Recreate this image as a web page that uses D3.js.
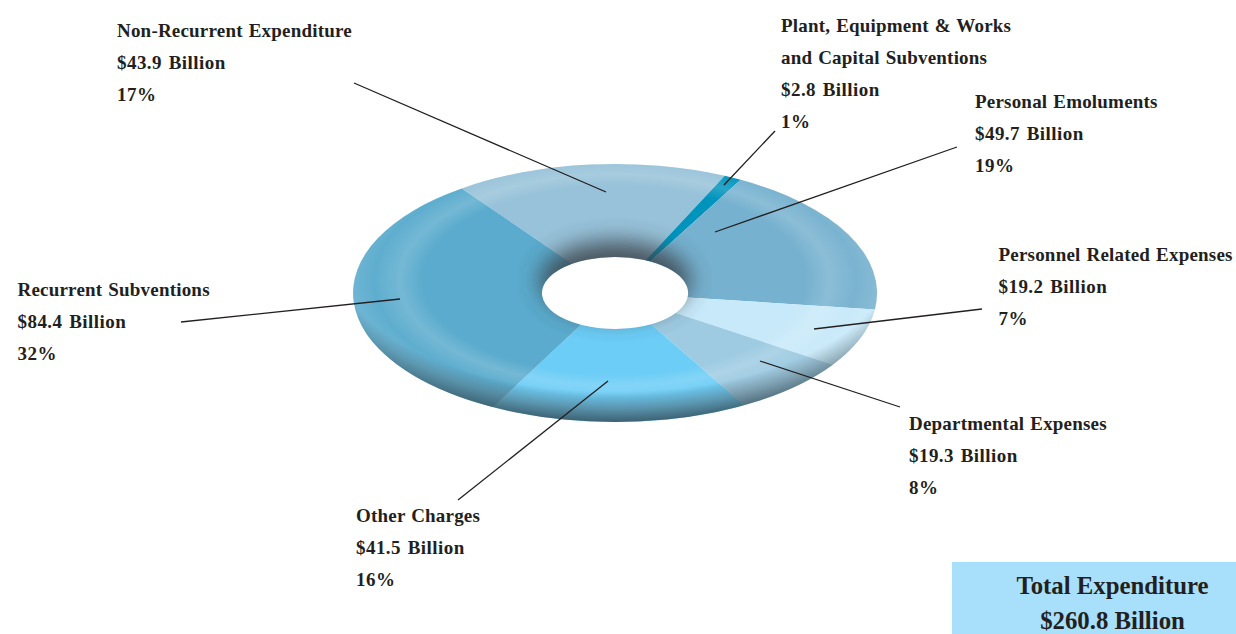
<!DOCTYPE html>
<html>
<head>
<meta charset="utf-8">
<script src="https://cdn.jsdelivr.net/npm/d3@7"></script>
<style>
  html, body { margin: 0; padding: 0; background: #fff; }
  text { font-family: "Liberation Serif", serif; font-weight: bold; fill: #231f20; }
</style>
</head>
<body>
<div id="target"></div>
<script>
// data
const categories = [
  "Non-Recurrent Expenditure",
  "Plant, Equipment & Works and Capital Subventions",
  "Personal Emoluments",
  "Personnel Related Expenses",
  "Departmental Expenses",
  "Other Charges",
  "Recurrent Subventions"
];
const billions = [43.9, 2.8, 49.7, 19.2, 19.3, 41.5, 84.4];
const percents = [17, 1, 19, 7, 8, 16, 32];
const totalTitle = "Total Expenditure";
const totalValue = 260.8;

const colors = ["#97c2d9", "#0094bd", "#76b1cf", "#c8e9f9", "#9ecbe2", "#6ccdf6", "#5aabcd"];

// label layout, same order as categories
const labelLines = [
  ["Non-Recurrent Expenditure"],
  ["Plant, Equipment & Works", "and Capital Subventions"],
  ["Personal Emoluments"],
  ["Personnel Related Expenses"],
  ["Departmental Expenses"],
  ["Other Charges"],
  ["Recurrent Subventions"]
];
const labelPos = [[117, 37], [781, 32], [975, 108], [998.5, 261], [909, 430], [356, 522], [17.5, 296]];
const leaders = [
  [[354, 83], [606, 192]],
  [[775, 131], [724, 185]],
  [[957, 147], [715, 232]],
  [[982, 309], [814, 329]],
  [[900, 407], [760, 361]],
  [[458, 500], [608, 381]],
  [[181, 322], [400, 299]]
];

const width = 1236,
  height = 634,
  cx = 615,
  cy = 293,
  rx = 262,
  ry = 129,
  holeRatio = 0.279,
  lineStep = 32;

let svg = d3.select("#target").append("svg")
  .attr("width", width)
  .attr("height", height)
  .style("display", "block");

let defs = svg.append("defs");

function radial(id, cyOff, r, stops) {
  let g = defs.append("radialGradient")
    .attr("id", id)
    .attr("gradientUnits", "userSpaceOnUse")
    .attr("cx", 0)
    .attr("cy", cyOff)
    .attr("r", r);
  stops.forEach((s) => {
    g.append("stop")
      .attr("offset", s[0])
      .attr("stop-color", s[1])
      .attr("stop-opacity", s[2]);
  });
}
radial("rimDark", -0.3, 1.3, [[0.82, "#2c4450", 0], [0.91, "#2c4450", 0.4], [1, "#2c4450", 0.8]]);
radial("rimLight", -0.1, 1, [[0.73, "#fff", 0], [0.82, "#fff", 0.16], [0.92, "#fff", 0.03], [1, "#fff", 0.12]]);

defs.append("filter")
  .attr("id", "blur")
  .attr("x", "-50%").attr("y", "-50%")
  .attr("width", "200%").attr("height", "200%")
  .append("feGaussianBlur")
  .attr("stdDeviation", 11);

let pie = d3.pie()
  .sort(null)
  .startAngle(-35.8 * Math.PI / 180)
  .endAngle((360 - 35.8) * Math.PI / 180);

let arc = d3.arc()
  .innerRadius(holeRatio)
  .outerRadius(1);

let ring = arc({ startAngle: 0, endAngle: 2 * Math.PI });

defs.append("clipPath")
  .attr("id", "ringClip")
  .append("path")
  .attr("transform", `translate(${cx},${cy}) scale(${rx},${ry})`)
  .attr("d", ring);

let disc = svg.append("g")
  .attr("transform", `translate(${cx},${cy}) scale(${rx},${ry})`);

disc.selectAll("path.slice")
  .data(pie(billions))
  .enter().append("path")
  .attr("class", "slice")
  .attr("d", arc)
  .style("fill", (d, i) => colors[i]);

disc.append("path").attr("d", ring).style("fill", "url(#rimLight)");
disc.append("path").attr("d", ring).style("fill", "url(#rimDark)");

// shadow over the upper side of the hole
svg.append("g")
  .attr("clip-path", "url(#ringClip)")
  .append("ellipse")
  .attr("cx", cx)
  .attr("cy", cy - 13)
  .attr("rx", rx * holeRatio + 2)
  .attr("ry", ry * holeRatio + 3)
  .attr("filter", "url(#blur)")
  .style("fill", "#3a4348")
  .style("opacity", 0.85);

// leader lines
svg.selectAll("line.leader")
  .data(leaders)
  .enter().append("line")
  .attr("class", "leader")
  .attr("x1", (d) => d[0][0])
  .attr("y1", (d) => d[0][1])
  .attr("x2", (d) => d[1][0])
  .attr("y2", (d) => d[1][1])
  .style("stroke", "#231f20")
  .style("stroke-width", 1.3);

// labels
let labels = svg.selectAll("g.label")
  .data(categories)
  .enter().append("g")
  .attr("class", "label")
  .attr("transform", (d, i) => `translate(${labelPos[i][0]},${labelPos[i][1]})`);

labels.each(function (d, i) {
  let names = labelLines[i].length;
  let lines = labelLines[i].concat([`$${billions[i]} Billion`, `${percents[i]}%`]);
  d3.select(this).selectAll("text")
    .data(lines)
    .enter().append("text")
    .attr("y", (t, j) => j * lineStep)
    .style("font-size", "19px")
    .style("letter-spacing", (t, j) => j < names ? "0.2px" : "0.45px")
    .style("word-spacing", (t, j) => j < names ? "1px" : "1.5px")
    .text((t) => t);
});

// total box
svg.append("rect")
  .attr("x", 952)
  .attr("y", 562)
  .attr("width", 284)
  .attr("height", 72)
  .style("fill", "#a8dffb");

svg.append("text")
  .attr("x", 1112.5)
  .attr("y", 594)
  .attr("text-anchor", "middle")
  .style("font-size", "24.8px")
  .text(totalTitle);

svg.append("text")
  .attr("x", 1112.5)
  .attr("y", 629)
  .attr("text-anchor", "middle")
  .style("font-size", "24.8px")
  .text(`$${totalValue} Billion`);
</script>
</body>
</html>
